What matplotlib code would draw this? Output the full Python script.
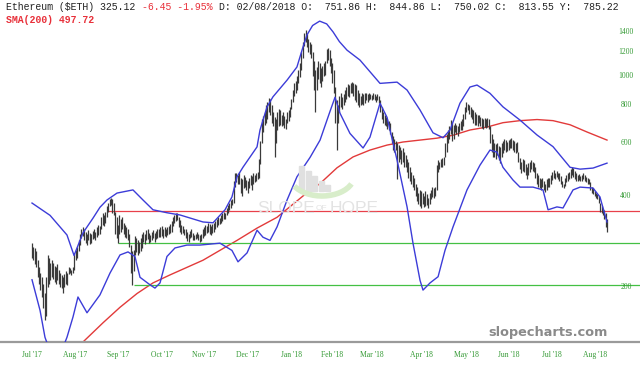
import numpy as np
import matplotlib
matplotlib.use("Agg")
import matplotlib.pyplot as plt
import matplotlib.transforms as mtransforms
from matplotlib.patches import Rectangle, Arc

# ---------------- data (daily bars, Jul 2017 -> Aug 2018) ----------------
highs = [
    280, 272, 268, 262,
    245, 232, 222,
    215, 205, 190,
    215,
    255, 250, 240,
    245, 240, 235, 232, 238,
    228, 222, 218, 215, 220, 225, 222,
    232, 230, 228, 232,
    258, 265,
    270, 285, 300, 312, 315,
    310, 305, 300, 308, 302, 300, 306, 310, 305,
    315, 320, 318,
    340, 350, 345, 355,
    370, 380, 392, 395,
    390, 380,
    355, 340, 320,
    345, 335, 340, 325,
    320, 315, 310, 300,
    275, 262,
    265,
    295, 290, 285, 282, 290, 300,
    305, 300, 308, 310, 302, 298, 305, 308, 302, 306, 310, 312,
    315, 318, 312, 316, 310, 315, 318, 322, 330, 340, 345, 350,
    350,
    340, 332, 320, 318, 310,
    312, 305, 300, 306, 310, 302, 298, 300, 305, 300, 296,
    300, 310, 315, 320, 318, 325, 322, 318, 322, 326, 330,
    335, 340, 338, 345, 350, 355, 352,
    365, 372, 380, 388, 390,
    450, 478, 475,
    470, 480, 460, 455, 470, 462, 452, 448, 460, 470, 465,
    475, 470, 478, 480,
    530, 610, 720,
    735, 760, 800, 820, 848,
    840, 800, 760, 730, 720, 760, 780, 770,
    740, 760, 735, 720, 760, 770, 790,
    840, 900, 950, 960, 1000, 1050, 1100,
    1200, 1300, 1390, 1420, 1380,
    1330, 1300, 1280, 1200,
    1120, 1050, 1070,
    1120, 1100, 1060, 1080, 1100, 1120,
    1230, 1240, 1220, 1150, 1100,
    1050, 920,
    830, 800,
    860, 880, 850, 870,
    900, 920, 940, 930, 945, 955, 950,
    940, 930, 900, 880, 860, 880, 870, 880,
    880, 870, 875, 870, 865, 880, 870, 860, 870, 860,
    830, 790, 760, 740,
    730, 720, 710, 700,
    650, 630, 620, 610,
    600, 590, 580, 570, 575, 560,
    545, 530, 520, 500, 480, 470,
    460, 440, 430, 410, 420, 415,
    410, 400, 415, 405, 395, 410,
    420, 430, 425, 430,
    505, 525, 520,
    530, 535, 540,
    600, 640, 660, 680,
    714, 700, 690,
    700, 690, 680, 700, 710, 720, 750,
    790, 820, 810, 800,
    790, 780, 770, 760, 750, 740, 745,
    730, 725, 720, 728, 720, 725, 720,
    680, 640, 620,
    600, 595, 600, 585, 580,
    600, 610, 620, 615, 605, 612, 618,
    622, 613, 610, 600, 605,
    560, 535, 520, 530, 525,
    510, 500, 515, 520, 526, 520, 515,
    500, 476, 470, 460, 455,
    459, 450, 440, 455, 460, 458,
    470, 480, 488, 475, 485, 478,
    476, 465, 450, 440, 460, 470, 475, 480,
    490, 500, 495, 485,
    476, 470, 472, 466, 470, 476,
    470, 464, 460, 455,
    445, 430, 425, 415,
    410, 405, 400,
    380, 370, 362, 360,
    350, 335,
]
lows = [
    250, 245, 238, 232,
    215, 205, 195,
    185, 170, 155,
    160,
    200, 205, 210,
    215, 212, 208, 205, 210,
    205, 200, 198, 190, 200, 205, 203,
    220, 222, 218, 222,
    228, 245,
    250, 262, 275, 290, 295,
    285, 280, 276, 285, 278, 280, 288, 290, 285,
    292, 298, 300,
    310, 320, 318, 325,
    340, 355, 370, 372,
    350, 345,
    300, 290, 280,
    300, 305, 310, 300,
    292, 290, 285, 270,
    222, 202,
    225,
    255, 260, 255, 258, 262, 268,
    282, 278, 285, 288, 280, 282, 285, 290, 282, 288, 290, 292,
    292, 295, 290, 295, 292, 298, 300, 302, 305, 318, 325, 330,
    332,
    315, 305, 300, 302, 298,
    290, 284, 282, 290, 292, 285, 285, 288, 290, 285, 282,
    283, 290, 295, 298, 302, 305, 300, 296, 302, 305, 310,
    315, 320, 322, 325, 330, 335, 335,
    345, 350, 360, 365, 372,
    380, 430, 445,
    440, 440, 410, 400, 425, 430, 420, 410, 425, 435, 420,
    440, 445, 450, 455,
    460, 510, 600,
    650, 690, 700, 720, 760,
    740, 700, 680, 540, 600, 660, 680, 690,
    680, 690, 670, 665, 700, 710, 730,
    780, 820, 860, 880, 900, 950, 990,
    1050, 1150, 1260, 1300, 1250,
    1200, 1180, 1150, 1000,
    900, 760, 900,
    980, 950, 920, 960, 1000, 1010,
    1100, 1130, 1080, 1020, 950,
    880, 700,
    570, 700,
    760, 790, 780, 800,
    820, 840, 860, 850, 880, 880, 860,
    830, 820, 800, 790, 800, 810, 800, 815,
    830, 820, 830, 840, 835, 840, 830, 820, 830, 815,
    760, 720, 700, 690,
    680, 665, 660, 640,
    600, 570, 560, 570,
    455, 520, 530, 510, 520, 500,
    500, 480, 460, 450, 440, 430,
    420, 400, 385, 375, 370, 365,
    375, 368, 370, 372, 365, 375,
    390, 398, 395, 400,
    420, 480, 490,
    498, 500, 505,
    540, 560, 600, 620,
    640, 610, 620,
    650, 640, 631, 650, 660, 660, 680,
    720, 760, 770, 750,
    730, 720, 700, 690, 690, 680, 700,
    680, 670, 665, 675, 670, 675, 665,
    600, 560, 540,
    540, 530, 545, 525, 515,
    540, 555, 570, 560, 565, 570, 575,
    575, 570, 560, 555, 560,
    520, 490, 476, 485, 480,
    470, 455, 470, 480, 490, 485, 480,
    460, 440, 430, 425, 419,
    430, 420, 412, 420, 430, 428,
    440, 452, 460, 455, 462, 455,
    450, 440, 430, 425, 432, 445, 450, 455,
    460, 470, 462, 455,
    450, 447, 452, 448, 450, 455,
    447, 445, 440, 438,
    420, 410, 405, 400,
    394, 390, 380,
    355, 350, 345, 335,
    315, 304,
]

# Bollinger bands (upper / lower), read at a number of days
upper_day = [0, 12.8, 24.8, 29.8, 36.2, 43.3, 48.2, 53.2, 60.3, 71.6, 78.7, 85.8, 95.7,
             105, 121.3, 128.4, 136.9, 141.8, 145.4, 149.6, 159.6, 161.7, 166.7, 170.9,
             180.9, 187.9, 192.2, 195, 199, 204, 209, 213.5, 218, 223.4, 232.6, 246.8,
             258.9, 266, 275.2, 284.4, 291.5, 296.5, 303.5, 310.6, 315.6, 324.8, 334,
             346.1, 358.2, 369.5, 381.6, 388.7, 397.9, 407.8]
upper_val = [379, 345, 297, 254, 302, 338, 367, 388, 409, 419, 388, 360, 352,
             346, 328, 326, 360, 397, 463, 498, 582, 662, 790, 853,
             969, 1071, 1248, 1367, 1470, 1520, 1488, 1400, 1300, 1218, 1129, 945,
             954, 898, 771, 648, 624, 662, 812, 919, 933, 876, 790,
             714, 637, 583, 498, 491, 495, 514]
lower_day = [0, 5.7, 9.2, 14, 19, 24.8, 29.1, 32.6, 39, 48.2, 55.3, 62.4, 68.1, 73,
             76.6, 83.7, 87.2, 90.8, 95.7, 101.4, 109.9, 119.1, 133.3, 141.8, 146.1,
             152.5, 159.6, 163.8, 168.8, 173.8, 180.9, 187.9, 197.2, 204.3, 211.3,
             214.9, 218.4, 225.5, 234.8, 239.7, 246.8, 251.8, 258.9, 266, 270.2, 275.2,
             277.3, 282.3, 288, 292.9, 298.6, 308.5, 317.7, 324.8, 329.8, 334, 341.1,
             346.1, 355.3, 362.4, 366, 372.3, 376.6, 383.7, 388.7, 397.9, 402.8, 407.8]
lower_val = [211, 167, 136, 118, 116, 136, 159, 185, 164, 188, 222, 255, 261, 252,
             215, 203, 198, 206, 252, 269, 275, 275, 279, 264, 242,
             259, 308, 292, 285, 316, 388, 463, 537, 613, 762,
             850, 753, 645, 577, 627, 812, 729, 526, 368, 279, 210,
             195, 206, 216, 264, 316, 419, 506, 568, 559, 498, 452,
             428, 428, 419, 360, 368, 365, 419, 428, 425, 397, 328]

# 200 day moving average
sma_day = [33, 50.4, 62.4, 74.5, 85.8, 97.9, 121.3, 145.4, 159.6, 173.8, 192.2, 204.3,
           216.3, 227.7, 239.7, 251.8, 263.1, 275.2, 287.2, 298.6, 310.6, 322.7, 334,
           346.1, 358.2, 369.5, 381.6, 393.6, 407.8]
sma_val = [127, 152, 171, 190, 206, 219, 245, 285, 313, 340, 400, 440,
           496, 539, 568, 590, 604, 613, 622, 636, 662, 677, 700,
           711, 717, 711, 689, 652, 613]

# drawn levels: price and first day
red_level, red_start = 357, 54
green_levels = [279, 202]
green_starts = [61, 72]

month_labels = ["Jul '17", "Aug '17", "Sep '17", "Oct '17", "Nov '17", "Dec '17", "Jan '18",
                "Feb '18", "Mar '18", "Apr '18", "May '18", "Jun '18", "Jul '18", "Aug '18"]
month_pos = [0, 30.5, 61, 92, 122, 153, 184, 213, 241, 276, 308, 338, 369, 399]
price_ticks = [200, 400, 600, 800, 1000, 1200, 1400]

# ---------------- figure -----------------
W, H = 640, 369
fig = plt.figure(figsize=(W / 100, H / 100), dpi=100)
ax = fig.add_axes([0, 27 / H, 1, 342 / H])
ax.set_yscale('log')
ax.set_ylim(131.2, 1786)
ax.set_xlim(-22.7, 431.2)

green = '#339933'

# watermark (Slope of Hope logo)
def px(x, y):
    return x / W, 1 - y / H

for i, top in enumerate([166, 171, 176, 181, 185]):
    x0, y0 = px(299 + i * 6.5, 191)
    _, y1 = px(0, top)
    fig.patches.append(Rectangle((x0, y0), 5 / W, y1 - y0, transform=fig.transFigure,
                                 color='#e0e0e0', zorder=0))
fig.patches.append(Arc((322, H - 176), 64, 40, theta1=200, theta2=345, transform=None,
                       color='#d8edca', lw=4, zorder=0))
fig.text(*px(257, 213), 'SLOPE', fontsize=12.5, color='#e3e3e3', family='Liberation Sans', zorder=0)
fig.text(*px(316, 210), 'OF', fontsize=6, color='#e3e3e3', family='Liberation Sans', zorder=0)
fig.text(*px(330, 213), 'HOPE', fontsize=12.5, color='#e3e3e3', family='Liberation Sans', zorder=0)
ax.patch.set_alpha(0)

days = np.arange(len(highs))
ax.vlines(days, lows, highs, color='#3a3a3a', lw=0.9, zorder=3)

ax.plot(upper_day, upper_val, color='#3c3cd8', lw=1, zorder=4)
ax.plot(lower_day, lower_val, color='#3c3cd8', lw=1, zorder=4)
ax.plot(sma_day, sma_val, color='#e23a3a', lw=1, zorder=2)

xmax = ax.get_xlim()[1]
ax.hlines(red_level, red_start, xmax, color='#e8404a', lw=0.9, zorder=2)
ax.hlines(green_levels, green_starts, xmax, color='#44c044', lw=0.9, zorder=2)

# price labels on the right
trans = mtransforms.blended_transform_factory(ax.transAxes, ax.transData)
for p in price_ticks:
    ax.text(0.978, p, str(p), transform=trans, ha='center', va='center',
            fontsize=5.5, color=green, family='Liberation Serif', zorder=5)

ax.tick_params(axis='y', which='both', left=False, right=False, labelleft=False)
ax.set_xticks(month_pos)
ax.set_xticklabels(month_labels, fontsize=5.5, color=green, family='Liberation Serif')
ax.tick_params(axis='x', which='both', length=0, pad=6.5)

for s in ['top', 'left', 'right']:
    ax.spines[s].set_visible(False)
ax.spines['bottom'].set_color('#9a9a9a')
ax.spines['bottom'].set_linewidth(1.6)

# header
cw = 5.92
mono = 'Liberation Mono'
fig.text(*px(6, 10), 'Ethereum ($ETH) 325.12', fontsize=7.1, family=mono, color='#222222', va='baseline')
fig.text(*px(6 + 23 * cw, 10), '-6.45 -1.95%', fontsize=7.1, family=mono, color='#e8303a', va='baseline')
fig.text(*px(6 + 36 * cw, 10), 'D: 02/08/2018 O:  751.86 H:  844.86 L:  750.02 C:  813.55 Y:  785.22',
         fontsize=7.1, family=mono, color='#222222', va='baseline')
fig.text(*px(6, 23), 'SMA(200) 497.72', fontsize=7.1, family=mono, color='#e8303a',
         weight='bold', va='baseline')

fig.text(*px(548, 336), 'slopecharts.com', fontsize=9.3, weight='bold', color='#8a8a8a',
         ha='center', va='baseline', family='DejaVu Sans')

fig.savefig('out.png', dpi=100)
